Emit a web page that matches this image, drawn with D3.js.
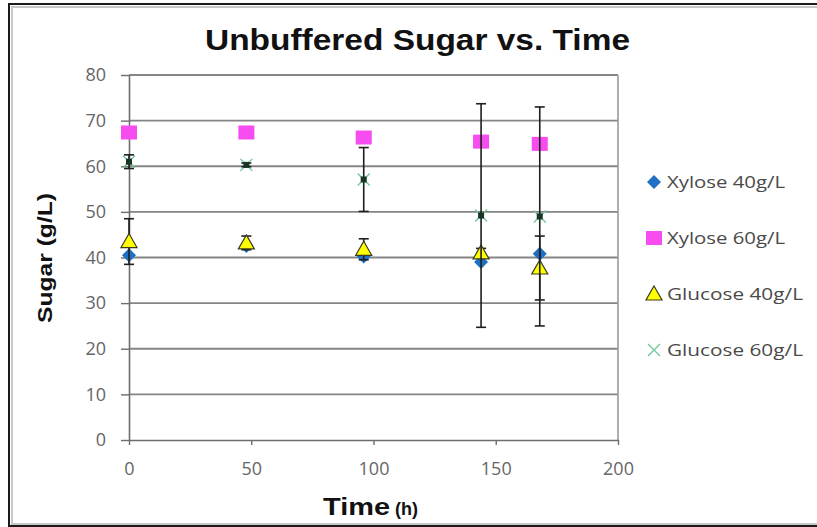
<!DOCTYPE html>
<html>
<head>
<meta charset="utf-8">
<script src="https://cdn.jsdelivr.net/npm/d3@7"></script>
<style>
  body { margin: 0; background: #fff; }
</style>
</head>
<body>
<div id="chart"></div>
<script>
// data
var times = [0, 48, 96, 144, 168];
var xylose40 = [40.5, 42.5, 40.2, 39.0, 40.8];
var xylose60 = [67.4, 67.4, 66.3, 65.4, 64.9];
var glucose40 = [43.5, 43.2, 41.8, 41.0, 37.7];
var glucose60 = [61.0, 60.3, 57.1, 49.2, 49.0];
var glucose40Err = [5, 1.5, 2.3, 1, 7];
var glucose60Err = [1.5, 0.4, 7, 24.5, 24];
var xTicks = [0, 50, 100, 150, 200];
var yTicks = [0, 10, 20, 30, 40, 50, 60, 70, 80];
var seriesNames = ["Xylose 40g/L", "Xylose 60g/L", "Glucose 40g/L", "Glucose 60g/L"];

var W = 817, H = 527;
var margin = { top: 75, right: 199, bottom: 87, left: 129 }
    , width = W - margin.left - margin.right
    , height = H - margin.top - margin.bottom;

var svg = d3.select("#chart").append("svg")
    .attr("width", W)
    .attr("height", H);

svg.append("rect").attr("width", W).attr("height", H).attr("fill", "#fff");

// outer frame
svg.append("rect")
    .attr("x", 12).attr("y", 7).attr("width", W).attr("height", H - 10)
    .attr("fill", "none").attr("stroke", "#c8c8c8").attr("stroke-width", 2);
svg.append("rect")
    .attr("x", 9).attr("y", 4).attr("width", W).attr("height", H - 5)
    .attr("fill", "none").attr("stroke", "#1a1a1a").attr("stroke-width", 2);

var x = d3.scaleLinear().domain([0, 200]).range([0, width]);
var y = d3.scaleLinear().domain([0, 80]).range([height, 0]);

var g = svg.append("g")
    .attr("transform", "translate(" + margin.left + "," + margin.top + ")");

// gridlines
g.selectAll(".grid").data(yTicks.slice(1)).enter().append("line")
    .attr("x1", 0).attr("x2", width)
    .attr("y1", function (d) { return y(d); })
    .attr("y2", function (d) { return y(d); })
    .attr("stroke", "#858585").attr("stroke-width", 1.8);

// right border of plot area
g.append("line")
    .attr("x1", width).attr("x2", width).attr("y1", 0).attr("y2", height)
    .attr("stroke", "#9a9a9a").attr("stroke-width", 1.6);

// y axis
var yAxis = g.append("g")
    .call(d3.axisLeft(y).tickValues(yTicks).tickSize(8).tickPadding(15).tickSizeOuter(0));
// x axis
var xAxis = g.append("g")
    .attr("transform", "translate(0," + height + ")")
    .call(d3.axisBottom(x).tickValues(xTicks).tickSize(5).tickPadding(17).tickSizeOuter(0));

[xAxis, yAxis].forEach(function (a) {
    a.select(".domain").attr("stroke", "#6e6e6e").attr("stroke-width", 1.6);
    a.selectAll(".tick line").attr("stroke", "#6e6e6e").attr("stroke-width", 1.4);
    a.selectAll(".tick text")
        .attr("fill", "#666")
        .style("font-family", "'Open Sans', sans-serif")
        .style("font-size", "18px");
});

// error bars
function errorBars(vals, errs) {
    var cap = 5;
    var eb = g.append("g").attr("stroke", "#1e1e1e").attr("stroke-width", 1.6);
    times.forEach(function (t, i) {
        var cx = x(t), hi = y(vals[i] + errs[i]), lo = y(vals[i] - errs[i]);
        eb.append("line").attr("x1", cx).attr("x2", cx).attr("y1", hi).attr("y2", lo);
        eb.append("line").attr("x1", cx - cap).attr("x2", cx + cap).attr("y1", hi).attr("y2", hi);
        eb.append("line").attr("x1", cx - cap).attr("x2", cx + cap).attr("y1", lo).attr("y2", lo);
    });
}

// marker drawers
function diamond(sel) {
    sel.append("path").attr("d", "M0,-7L7,0L0,7L-7,0Z").attr("fill", "#1f6fc2");
}
function square(sel) {
    sel.append("rect").attr("x", -8).attr("y", -7).attr("width", 16).attr("height", 14).attr("fill", "#f64cf0");
}
function triangle(sel) {
    sel.append("path").attr("d", "M0,-8L8,6L-8,6Z")
        .attr("fill", "#ffff00").attr("stroke", "#3a3a20").attr("stroke-width", 1.2);
}
function cross(sel) {
    sel.append("path").attr("d", "M-6,-6L6,6M-6,6L6,-6")
        .attr("stroke", "#6fc79a").attr("stroke-width", 1.3).attr("fill", "none");
}
var markers = [diamond, square, triangle, cross];

function points(vals, fn) {
    times.forEach(function (t, i) {
        var p = g.append("g").attr("transform", "translate(" + x(t) + "," + y(vals[i]) + ")");
        fn(p);
    });
}

points(xylose40, diamond);
points(xylose60, square);
errorBars(glucose40, glucose40Err);
points(glucose40, triangle);
points(glucose60, cross);
errorBars(glucose60, glucose60Err);
// dark centre of the glucose 60 markers
times.forEach(function (t, i) {
    g.append("rect")
        .attr("x", x(t) - 3).attr("y", y(glucose60[i]) - 3)
        .attr("width", 6).attr("height", 6).attr("fill", "#163522");
});

// legend
var legend = svg.append("g");
seriesNames.forEach(function (name, i) {
    var ly = 182 + i * 56;
    var m = legend.append("g").attr("transform", "translate(654," + ly + ")");
    markers[i](m);
    legend.append("text")
        .attr("x", 667).attr("y", ly + 6)
        .attr("fill", "#4a4a4a")
        .attr("textLength", i < 2 ? 118 : 136)
        .attr("lengthAdjust", "spacingAndGlyphs")
        .style("font-family", "'Open Sans', sans-serif")
        .style("font-size", "16px")
        .text(name);
});

// title
svg.append("text")
    .attr("x", 205).attr("y", 50)
    .attr("textLength", 425).attr("lengthAdjust", "spacingAndGlyphs")
    .style("font-family", "'Liberation Sans', Arial, sans-serif")
    .style("font-weight", "bold").style("font-size", "29px")
    .attr("fill", "#111")
    .text("Unbuffered Sugar vs. Time");

// y axis title
svg.append("text")
    .attr("transform", "translate(52,258) rotate(-90)")
    .attr("text-anchor", "middle")
    .attr("textLength", 130).attr("lengthAdjust", "spacingAndGlyphs")
    .style("font-family", "'Liberation Sans', Arial, sans-serif")
    .style("font-weight", "bold").style("font-size", "21px")
    .attr("fill", "#111")
    .text("Sugar (g/L)");

// x axis title
var xt = svg.append("text")
    .attr("x", 323).attr("y", 515)
    .style("font-family", "'Liberation Sans', Arial, sans-serif")
    .style("font-weight", "bold")
    .attr("fill", "#111");
xt.append("tspan").style("font-size", "24px").attr("textLength", 67)
    .attr("lengthAdjust", "spacingAndGlyphs").text("Time");
xt.append("tspan").attr("dx", 5).style("font-size", "18px").text("(h)");
</script>
</body>
</html>
